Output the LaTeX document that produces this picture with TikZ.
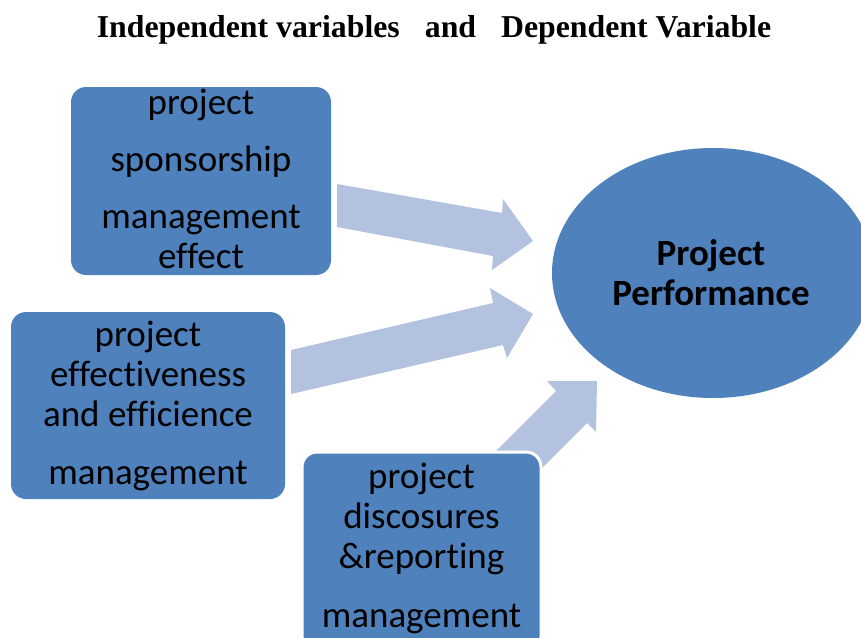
\documentclass[tikz,border=0pt]{standalone}
\usepackage{fontspec}
\usetikzlibrary{shapes.geometric}
\setmainfont{Carlito}[Ligatures=NoCommon]
\newfontfamily\titlefont{Liberation Serif}
\definecolor{boxblue}{HTML}{4F81BD}
\definecolor{arrowblue}{HTML}{B3C3DF}
\begin{document}
\begin{tikzpicture}[x=1pt,y=-1pt,
  varbox/.style={fill=boxblue, rounded corners=15pt, inner sep=0pt},
  vartext/.style={align=center, anchor=base, inner sep=0pt, font=\fontsize{37}{40}\selectfont},
  blockarrow/.style={fill=arrowblue, draw=none}]
\clip (0,0) rectangle (861,637);
\fill[white] (0,0) rectangle (861,637);
% title
\node[anchor=base, inner sep=0pt, font=\titlefont\fontsize{31.8}{35}\selectfont\bfseries] (title) at (434,37)
  {Independent variables\hspace{25pt}and\hspace{25pt}Dependent Variable};
% arrows
\fill[blockarrow] (337,184) -- (502,213) -- (503,199) -- (533,241) -- (492,270) -- (493,256) -- (337,227) -- cycle;
\fill[blockarrow] (291,350) -- (493,303) -- (490,288) -- (533,314) -- (507,358) -- (503,345) -- (291,394) -- cycle;
\fill[blockarrow] (480,467) -- (556,391) -- (547,381) -- (597,381) -- (596,432) -- (587,423) -- (520,490) -- cycle;
% boxes
\node[varbox, minimum width=260pt, minimum height=188pt] (b1) at (201,181) {};
\node[varbox, minimum width=274pt, minimum height=187pt] (b2) at (148,405.5) {};
\node[varbox, draw=white, line width=3pt, minimum width=239pt, minimum height=200pt] (b3) at (421.5,552) {};
\node[vartext] (t1) at (201,268) {project\\[17pt]sponsorship\\[17pt]management\\effect};
\node[vartext] (t2) at (148,484) {project\\effectiveness\\and efficience\\[18pt]management};
\node[vartext] (t3) at (421.5,627) {project\\discosures\\\&reporting\\[19pt]management};
% ellipse
\node[ellipse, fill=boxblue, minimum width=322pt, minimum height=250pt, inner sep=0pt] (perf) at (713,273) {};
\node[vartext, font=\fontsize{37}{40}\selectfont\bfseries] (pt) at (711,305) {Project\\Performance};
\end{tikzpicture}
\end{document}
